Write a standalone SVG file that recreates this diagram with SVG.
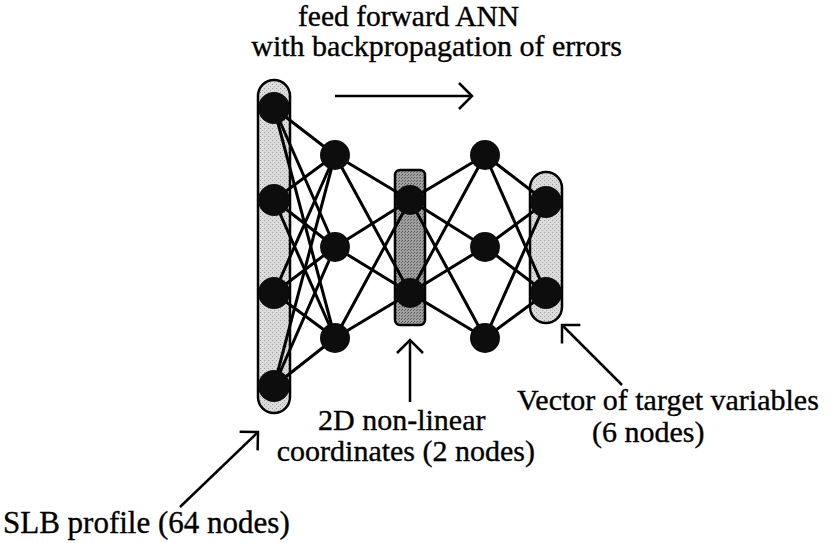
<svg xmlns="http://www.w3.org/2000/svg" width="833" height="543" viewBox="0 0 833 543">
  <style>
    .lbl { font-family: "Liberation Serif", "Times New Roman", serif; font-size: 30px; fill: #000; stroke: #000; stroke-width: 0.35; }
    .edge { stroke: #000; stroke-width: 3; stroke-linecap: round; }
    .neuron { fill: #0d0d0d; }
    .ptr { stroke: #000; stroke-width: 2.5; fill: none; }
    .band { stroke: #000; stroke-width: 2.5; }
  </style>
  <defs>
    <marker id="head" markerUnits="userSpaceOnUse" markerWidth="34" markerHeight="34" viewBox="-17 -17 34 34" refX="0" refY="0" orient="auto">
      <path d="M-13,-13 L0,0 L-13,13" fill="none" stroke="#000" stroke-width="2.5"/>
    </marker>
    <pattern id="grainLight" width="4" height="4" patternUnits="userSpaceOnUse">
      <rect width="4" height="4" fill="#dcdcdc"/>
      <rect x="0" y="0" width="1" height="1" fill="#9a9a9a"/>
      <rect x="2" y="2" width="1" height="1" fill="#a8a8a8"/>
    </pattern>
    <pattern id="grainDark" width="3" height="3" patternUnits="userSpaceOnUse">
      <rect width="3" height="3" fill="#a0a0a0"/>
      <rect x="0" y="0" width="1" height="1" fill="#555"/>
      <rect x="2" y="1" width="1" height="1" fill="#666"/>
    </pattern>
  </defs>

  <!-- layer envelopes -->
  <g id="input-layer-band">
    <rect class="band" x="258" y="80" width="32" height="333" rx="16" fill="url(#grainLight)"/>
  </g>
  <g id="bottleneck-band">
    <rect class="band" x="395" y="170" width="30" height="155" rx="5" fill="url(#grainDark)"/>
  </g>
  <g id="output-layer-band">
    <rect class="band" x="530" y="172" width="32" height="151" rx="16" fill="url(#grainLight)"/>
  </g>

  <!-- weights between layers -->
  <g id="connectors">
    <!-- input -> hidden 1 -->
    <line class="edge" x1="274" y1="108" x2="335" y2="155"/>
    <line class="edge" x1="274" y1="108" x2="335" y2="247"/>
    <line class="edge" x1="274" y1="108" x2="335" y2="338"/>
    <line class="edge" x1="274" y1="200" x2="335" y2="155"/>
    <line class="edge" x1="274" y1="200" x2="335" y2="247"/>
    <line class="edge" x1="274" y1="200" x2="335" y2="338"/>
    <line class="edge" x1="274" y1="293" x2="335" y2="155"/>
    <line class="edge" x1="274" y1="293" x2="335" y2="247"/>
    <line class="edge" x1="274" y1="293" x2="335" y2="338"/>
    <line class="edge" x1="274" y1="386" x2="335" y2="155"/>
    <line class="edge" x1="274" y1="386" x2="335" y2="247"/>
    <line class="edge" x1="274" y1="386" x2="335" y2="338"/>
    <!-- hidden 1 -> bottleneck -->
    <line class="edge" x1="335" y1="155" x2="410" y2="200"/>
    <line class="edge" x1="335" y1="155" x2="410" y2="293"/>
    <line class="edge" x1="335" y1="247" x2="410" y2="200"/>
    <line class="edge" x1="335" y1="247" x2="410" y2="293"/>
    <line class="edge" x1="335" y1="338" x2="410" y2="200"/>
    <line class="edge" x1="335" y1="338" x2="410" y2="293"/>
    <!-- bottleneck -> hidden 3 -->
    <line class="edge" x1="410" y1="200" x2="485" y2="155"/>
    <line class="edge" x1="410" y1="200" x2="485" y2="247"/>
    <line class="edge" x1="410" y1="200" x2="485" y2="338"/>
    <line class="edge" x1="410" y1="293" x2="485" y2="155"/>
    <line class="edge" x1="410" y1="293" x2="485" y2="247"/>
    <line class="edge" x1="410" y1="293" x2="485" y2="338"/>
    <!-- hidden 3 -> output -->
    <line class="edge" x1="485" y1="155" x2="546" y2="202"/>
    <line class="edge" x1="485" y1="155" x2="546" y2="293"/>
    <line class="edge" x1="485" y1="247" x2="546" y2="202"/>
    <line class="edge" x1="485" y1="247" x2="546" y2="293"/>
    <line class="edge" x1="485" y1="338" x2="546" y2="202"/>
    <line class="edge" x1="485" y1="338" x2="546" y2="293"/>
  </g>

  <!-- neurons -->
  <g id="input-nodes">
    <circle class="neuron" cx="274" cy="108" r="16"/>
    <circle class="neuron" cx="274" cy="200" r="16"/>
    <circle class="neuron" cx="274" cy="293" r="16"/>
    <circle class="neuron" cx="274" cy="386" r="16"/>
  </g>
  <g id="hidden1-nodes">
    <circle class="neuron" cx="335" cy="155" r="15"/>
    <circle class="neuron" cx="335" cy="247" r="15"/>
    <circle class="neuron" cx="335" cy="338" r="15"/>
  </g>
  <g id="bottleneck-nodes">
    <circle class="neuron" cx="410" cy="200" r="15"/>
    <circle class="neuron" cx="410" cy="293" r="15"/>
  </g>
  <g id="hidden3-nodes">
    <circle class="neuron" cx="485" cy="155" r="15"/>
    <circle class="neuron" cx="485" cy="247" r="15"/>
    <circle class="neuron" cx="485" cy="338" r="15"/>
  </g>
  <g id="output-nodes">
    <circle class="neuron" cx="546" cy="202" r="16"/>
    <circle class="neuron" cx="546" cy="293" r="16"/>
  </g>

  <!-- title and direction arrow -->
  <g id="title">
    <text class="lbl" x="298" y="26" style="font-size:29.5px">feed forward ANN</text>
    <text class="lbl" x="622" y="56" text-anchor="end">with backpropagation of errors</text>
    <line class="ptr" x1="335" y1="96" x2="472" y2="96" marker-end="url(#head)"/>
  </g>

  <!-- annotations -->
  <g id="bottleneck-label">
    <line class="ptr" x1="410" y1="402" x2="410" y2="340" marker-end="url(#head)"/>
    <text class="lbl" x="318" y="430">2D non-linear</text>
    <text class="lbl" x="535" y="461" text-anchor="end">coordinates (2 nodes)</text>
  </g>
  <g id="target-label">
    <line class="ptr" x1="622" y1="385" x2="562" y2="325" marker-end="url(#head)"/>
    <text class="lbl" x="517" y="410">Vector of target variables</text>
    <text class="lbl" x="592" y="442">(6 nodes)</text>
  </g>
  <g id="input-label">
    <line class="ptr" x1="180" y1="507" x2="258" y2="432" marker-end="url(#head)"/>
    <text class="lbl" x="3" y="533" style="font-size:31px">SLB profile (64 nodes)</text>
  </g>
</svg>
